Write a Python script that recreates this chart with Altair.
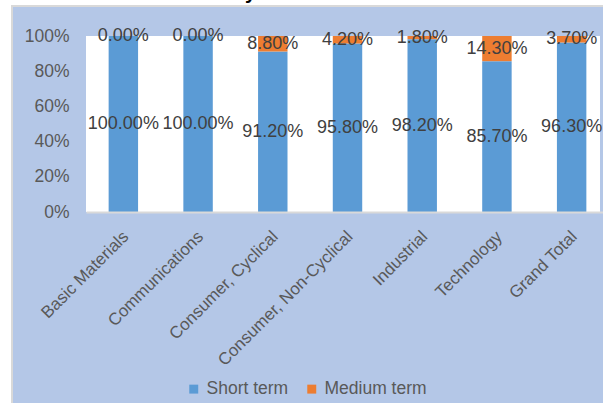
import altair as alt
import pandas as pd

# Share of holdings by industry sector, split by duration bucket (percent)
sectors = ["Basic Materials", "Communications", "Consumer, Cyclical",
           "Consumer, Non-Cyclical", "Industrial", "Technology", "Grand Total"]
short_term = [100.0, 100.0, 91.2, 95.8, 98.2, 85.7, 96.3]
medium_term = [0.0, 0.0, 8.8, 4.2, 1.8, 14.3, 3.7]
series = ["Short term", "Medium term"]
series_colors = ["#5b9bd5", "#ed7d31"]
y_ticks = [0, 0.2, 0.4, 0.6, 0.8, 1.0]
title_text = "Industry Sector and Duration"

FONT = "Liberation Sans, Arial, sans-serif"

rows = []
for sector, s_val, m_val in zip(sectors, short_term, medium_term):
    rows.append({"sector": sector, "series": series[0], "order": 0,
                 "share": s_val / 100, "mid": s_val / 200,
                 "label": f"{s_val:.2f}%"})
    rows.append({"sector": sector, "series": series[1], "order": 1,
                 "share": m_val / 100, "mid": (s_val + m_val / 2) / 100,
                 "label": f"{m_val:.2f}%"})
df = pd.DataFrame(rows)
one = pd.DataFrame({"k": [0]})

PLOT_W, PLOT_H = 517, 176
BAND_RANGE = 523

x_scale = alt.Scale(range=[0, BAND_RANGE], paddingInner=0.606, paddingOuter=0.303)
y_scale = alt.Scale(domain=[0, 1], nice=False)

x_axis = alt.Axis(title=None, labelAngle=-45, labelAlign="right", labelBaseline="top",
                  labelFont=FONT, labelFontSize=17, labelColor="#595959",
                  ticks=False, tickSize=0, labelPadding=16, labelOffset=-3,
                  labelLimit=400, labelOverlap=False, domainColor="#d9d9d9",
                  domainWidth=2, grid=False, zindex=1)
y_axis = alt.Axis(title=None, values=y_ticks, format="%", labelFont=FONT,
                  labelFontSize=17.5, labelColor="#595959", ticks=False,
                  domain=False, grid=False, labelPadding=17,
                  labelOverlap=False, labelBound=False, zindex=1)

# outer light-blue chart panel and white plot area
panel = alt.Chart(one).mark_rect(fill="#b4c7e7", stroke="#d9d9d9", strokeWidth=2).encode(
    x=alt.value(-74), x2=alt.value(560), y=alt.value(-30), y2=alt.value(400))
plot_bg = alt.Chart(one).mark_rect(fill="#ffffff").encode(
    x=alt.value(0), x2=alt.value(514), y=alt.value(0), y2=alt.value(PLOT_H))
title = alt.Chart(one).mark_text(
    text=title_text, font=FONT, fontWeight="bold", fontSize=20, color="#000000",
    align="center", baseline="alphabetic").encode(x=alt.value(229), y=alt.value(-37.5))

bars = alt.Chart(df).mark_bar().encode(
    x=alt.X("sector:N", sort=sectors, scale=x_scale, axis=x_axis),
    y=alt.Y("share:Q", stack="zero", scale=y_scale, axis=y_axis),
    color=alt.Color("series:N", scale=alt.Scale(domain=series, range=series_colors),
                    legend=alt.Legend(title=None, orient="none", legendX=99, legendY=344,
                                      direction="horizontal", symbolType="square",
                                      symbolSize=80, symbolStrokeWidth=0,
                                      labelFont=FONT, labelFontSize=17.5,
                                      labelColor="#595959", labelOffset=4,
                                      columnPadding=14, zindex=1)),
    order=alt.Order("order:Q"),
)

labels = alt.Chart(df).mark_text(font=FONT, fontSize=18, color="#404040").encode(
    x=alt.X("sector:N", sort=sectors, scale=x_scale, axis=x_axis),
    y=alt.Y("mid:Q", scale=y_scale, axis=y_axis),
    text="label:N",
)

chart = alt.layer(title, panel, plot_bg, bars, labels).properties(
    width=PLOT_W, height=PLOT_H,
    padding={"left": 86, "top": 36, "right": 0, "bottom": 191},
    autosize=alt.AutoSizeParams(type="none"),
    background="#ffffff",
).configure_view(strokeWidth=0).configure_axis(labelOverlap=False)

chart.save("out.html", embed_options={"renderer": "svg", "actions": False})
